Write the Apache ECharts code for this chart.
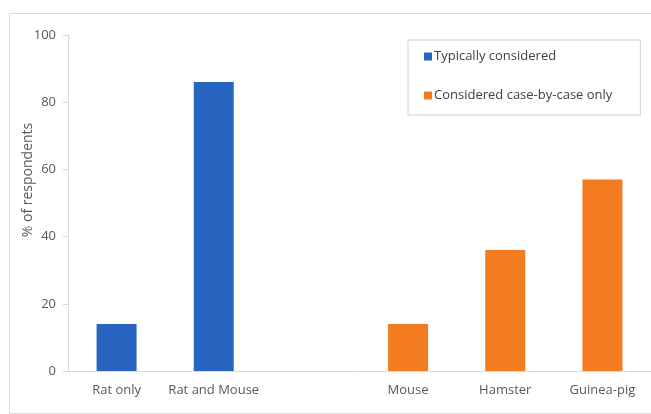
<!DOCTYPE html>
<html>
<head>
<meta charset="utf-8">
<script src="https://cdn.jsdelivr.net/npm/echarts@6/dist/echarts.min.js"></script>
<style>
  html, body { margin: 0; padding: 0; background: #fff; }
  #chart { width: 651px; height: 414px; }
</style>
</head>
<body>
<div id="chart"></div>
<script type="text/javascript">
  // categories (empty slot is the gap between the two groups)
  var categories = ['Rat only', 'Rat and Mouse', '', 'Mouse', 'Hamster', 'Guinea-pig'];
  var typicalValues = [14, 86, '-', '-', '-', '-'];
  var caseValues = ['-', '-', '-', 14, 36, 57];
  var yTicks = [0, 20, 40, 60, 80, 100];

  var textColor = '#595959';
  var fontFam = '"Open Sans", "Liberation Sans", sans-serif';

  var myChart = echarts.init(document.getElementById('chart'));
  var option = {
    animation: false,
    backgroundColor: '#fff',
    graphic: [{
      type: 'rect',
      shape: { x: 9.5, y: 13.5, width: 660, height: 400 },
      style: { fill: 'none', stroke: '#d9d9d9', lineWidth: 1 },
      z: -1
    }, {
      // y axis title, sits a bit above the axis middle like the original
      type: 'text',
      x: 28,
      y: 180,
      rotation: Math.PI / 2,
      style: {
        text: '% of respondents',
        fill: textColor,
        font: '14px ' + fontFam,
        align: 'center',
        verticalAlign: 'middle'
      }
    }],
    grid: { left: 68, right: -5, top: 35, bottom: 43 },
    legend: {
      orient: 'vertical',
      left: 408,
      top: 40,
      padding: [10, 28, 13, 16],
      itemGap: 26,
      itemWidth: 8,
      itemHeight: 8,
      borderColor: '#d0d0d0',
      borderWidth: 1,
      icon: 'rect',
      textStyle: { color: '#404040', fontSize: 13, fontFamily: fontFam, padding: [0, 0, 0, -3] },
      data: ['Typically considered', 'Considered case-by-case only']
    },
    xAxis: {
      type: 'category',
      data: categories,
      axisLine: { lineStyle: { color: '#d9d9d9' } },
      axisTick: { show: false },
      axisLabel: { interval: 0, color: textColor, fontSize: 13, fontFamily: fontFam, margin: 13 }
    },
    yAxis: {
      type: 'value',
      min: yTicks[0],
      max: yTicks[yTicks.length - 1],
      interval: 20,
      axisLine: { show: true, lineStyle: { color: '#d9d9d9' } },
      axisTick: { show: true, length: 5, lineStyle: { color: '#d9d9d9' } },
      splitLine: { show: false },
      axisLabel: { color: textColor, fontSize: 13, fontFamily: fontFam, margin: 12 }
    },
    series: [{
      name: 'Typically considered',
      type: 'bar',
      data: typicalValues,
      barWidth: 40,
      barGap: '-100%',
      itemStyle: { color: '#2765c1' }
    }, {
      name: 'Considered case-by-case only',
      type: 'bar',
      data: caseValues,
      barWidth: 40,
      barGap: '-100%',
      itemStyle: { color: '#f47c20' }
    }]
  };
  myChart.setOption(option);
</script>
</body>
</html>
